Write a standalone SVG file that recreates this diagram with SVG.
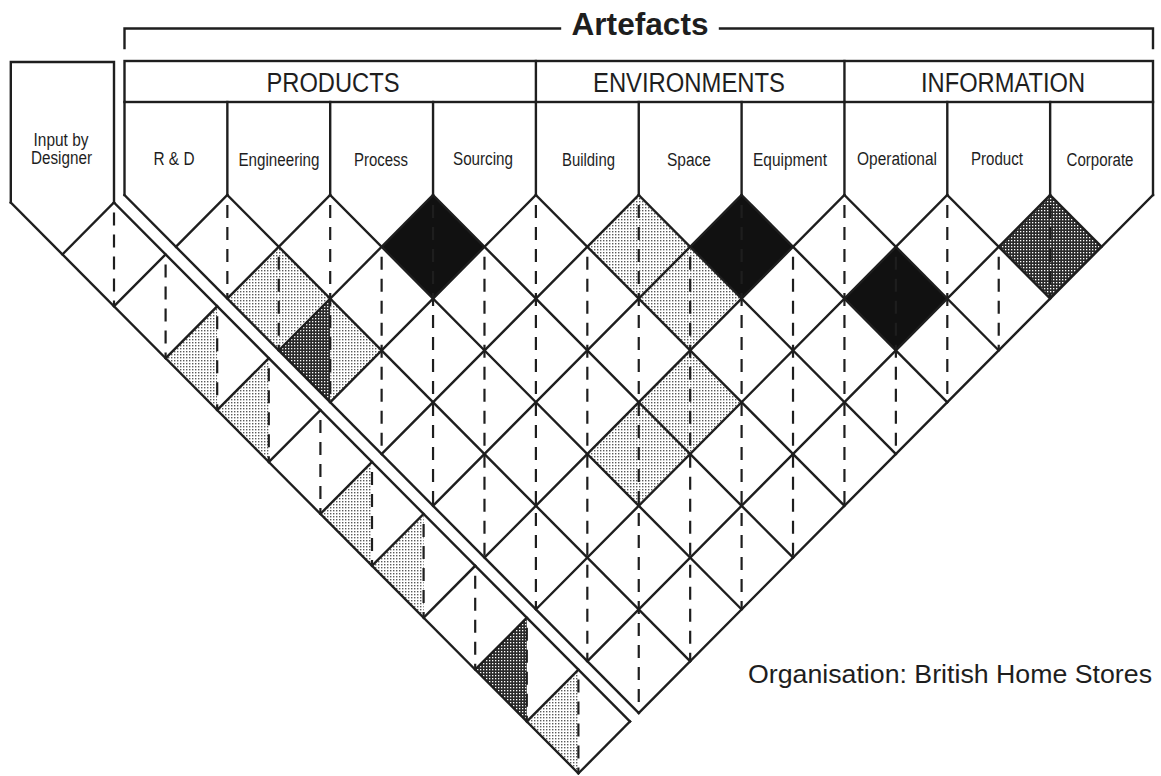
<svg xmlns="http://www.w3.org/2000/svg" width="1161" height="776" viewBox="0 0 1161 776">
  <defs>
    <!-- fine stipple used for the lighter cells -->
    <pattern id="stippleLight" width="3" height="3" patternUnits="userSpaceOnUse">
      <rect width="3" height="3" fill="#ffffff"/>
      <rect x="0" y="0" width="1.4" height="1.4" fill="#5a5a5a"/>
    </pattern>
    <!-- dense stipple used for the darker cells -->
    <pattern id="stippleDark" width="3" height="3" patternUnits="userSpaceOnUse">
      <rect width="3" height="3" fill="#2a2a2a"/>
      <rect x="0" y="0" width="1.3" height="1.3" fill="#ffffff"/>
    </pattern>
    <style>
      .ln { fill: none; stroke: #1e1e1e; stroke-width: 2.4; stroke-linejoin: miter; stroke-linecap: square; }
      .dash { fill: none; stroke: #1e1e1e; stroke-width: 2.2; stroke-dasharray: 13 9; stroke-dashoffset: -10; }
      .txt { font-family: "Liberation Sans", Arial, Helvetica, sans-serif; fill: #1e1e1e; text-anchor: middle; }
      .col { font-size: 18px; }
      .cat { font-size: 27px; }
      .title { font-size: 31px; font-weight: bold; }
      .org { font-size: 26.5px; }
      .black { fill: #111111; }
      .light { fill: url(#stippleLight); }
      .dark { fill: url(#stippleDark); }
    </style>
  </defs>

  <rect width="1161" height="776" fill="#ffffff"/>

  <!-- Title bracket -->
  <g id="artefacts">
    <polyline class="ln" points="124.5,48 124.5,28.5 560,28.5"/>
    <polyline class="ln" points="720,28.5 1153,28.5 1153,48"/>
    <text class="txt title" x="640" y="35" textLength="137" lengthAdjust="spacingAndGlyphs">Artefacts</text>
  </g>

  <!-- Category header strip -->
  <g id="categories">
    <rect class="ln" x="124.5" y="61" width="1028.5" height="41"/>
    <line class="ln" x1="535.9" y1="61" x2="535.9" y2="102"/>
    <line class="ln" x1="844.45" y1="61" x2="844.45" y2="102"/>
    <text class="txt cat" x="333" y="92" textLength="133" lengthAdjust="spacingAndGlyphs">PRODUCTS</text>
    <text class="txt cat" x="689" y="92" textLength="192" lengthAdjust="spacingAndGlyphs">ENVIRONMENTS</text>
    <text class="txt cat" x="1003" y="92" textLength="164" lengthAdjust="spacingAndGlyphs">INFORMATION</text>
  </g>

  <!-- Shaded cells of the main matrix -->
  <g id="cells">
    <polygon class="black" points="433.05,195 484.475,246.8 433.05,298.6 381.625,246.8"/>
    <polygon class="black" points="741.6,195 793.025,246.8 741.6,298.6 690.175,246.8"/>
    <polygon class="black" points="895.875,246.8 947.3,298.6 895.875,350.4 844.45,298.6"/>
    <polygon class="dark" points="1050.15,195 1101.575,246.8 1050.15,298.6 998.725,246.8"/>
    <polygon class="light" points="638.75,195 690.175,246.8 638.75,298.6 587.325,246.8"/>
    <polygon class="light" points="690.175,246.8 741.6,298.6 690.175,350.4 638.75,298.6"/>
    <polygon class="light" points="690.175,350.4 741.6,402.2 690.175,454 638.75,402.2"/>
    <polygon class="light" points="638.75,402.2 690.175,454 638.75,505.8 587.325,454"/>
    <polygon class="light" points="278.775,246.8 330.2,298.6 278.775,350.4 227.35,298.6"/>
    <polygon class="dark" points="330.2,298.6 278.775,350.4 330.2,402.2"/>
    <polygon class="light" points="330.2,298.6 381.625,350.4 330.2,402.2"/>
  </g>

  <!-- Shaded cells of the designer band -->
  <g id="designer-cells">
    <polygon class="light" points="217.2,306.3 165.6,358.2 217.2,410.1"/>
    <polygon class="light" points="268.8,358.2 217.2,410.1 268.8,462"/>
    <polygon class="light" points="372,462 320.4,513.9 372,565.8"/>
    <polygon class="light" points="423.6,513.9 372,565.8 423.6,617.7"/>
    <polygon class="dark" points="526.8,617.7 475.2,669.6 526.8,721.5"/>
    <polygon class="light" points="578.4,669.6 526.8,721.5 578.4,773.4"/>
  </g>

  <!-- Column heads -->
  <g id="col-rd"><text class="txt col" x="174" y="164.5" textLength="41" lengthAdjust="spacingAndGlyphs">R &amp; D</text></g>
  <g id="col-engineering"><text class="txt col" x="279" y="165.5" textLength="81" lengthAdjust="spacingAndGlyphs">Engineering</text></g>
  <g id="col-process"><text class="txt col" x="381" y="165.5" textLength="54" lengthAdjust="spacingAndGlyphs">Process</text></g>
  <g id="col-sourcing"><text class="txt col" x="483" y="165" textLength="60" lengthAdjust="spacingAndGlyphs">Sourcing</text></g>
  <g id="col-building"><text class="txt col" x="588.5" y="165.5" textLength="53" lengthAdjust="spacingAndGlyphs">Building</text></g>
  <g id="col-space"><text class="txt col" x="689" y="165.5" textLength="44" lengthAdjust="spacingAndGlyphs">Space</text></g>
  <g id="col-equipment"><text class="txt col" x="790" y="165.5" textLength="74" lengthAdjust="spacingAndGlyphs">Equipment</text></g>
  <g id="col-operational"><text class="txt col" x="897" y="165" textLength="80" lengthAdjust="spacingAndGlyphs">Operational</text></g>
  <g id="col-product"><text class="txt col" x="997" y="164.5" textLength="52" lengthAdjust="spacingAndGlyphs">Product</text></g>
  <g id="col-corporate"><text class="txt col" x="1100" y="165.5" textLength="67" lengthAdjust="spacingAndGlyphs">Corporate</text></g>

  <!-- Designer input column -->
  <g id="designer">
    <polyline class="ln" points="10.8,202.5 10.8,62 114,62 114,202.5"/>
    <text class="txt col" x="61" y="145.5" textLength="55" lengthAdjust="spacingAndGlyphs">Input by</text>
    <text class="txt col" x="61.5" y="163.5" textLength="61" lengthAdjust="spacingAndGlyphs">Designer</text>
  </g>

  <!-- Grid lines: column walls, diamond lattice and band -->
  <g id="connectors">
    <!-- column walls -->
    <line class="ln" x1="124.5" y1="102" x2="124.5" y2="195"/>
    <line class="ln" x1="227.35" y1="102" x2="227.35" y2="195"/>
    <line class="ln" x1="330.2" y1="102" x2="330.2" y2="195"/>
    <line class="ln" x1="433.05" y1="102" x2="433.05" y2="195"/>
    <line class="ln" x1="535.9" y1="102" x2="535.9" y2="195"/>
    <line class="ln" x1="638.75" y1="102" x2="638.75" y2="195"/>
    <line class="ln" x1="741.6" y1="102" x2="741.6" y2="195"/>
    <line class="ln" x1="844.45" y1="102" x2="844.45" y2="195"/>
    <line class="ln" x1="947.3" y1="102" x2="947.3" y2="195"/>
    <line class="ln" x1="1050.15" y1="102" x2="1050.15" y2="195"/>
    <line class="ln" x1="1153" y1="102" x2="1153" y2="195"/>

    <!-- lattice: down-right strokes -->
    <line class="ln" x1="124.5" y1="195" x2="638.75" y2="713"/>
    <line class="ln" x1="227.35" y1="195" x2="690.175" y2="661.2"/>
    <line class="ln" x1="330.2" y1="195" x2="741.6" y2="609.4"/>
    <line class="ln" x1="433.05" y1="195" x2="793.025" y2="557.6"/>
    <line class="ln" x1="535.9" y1="195" x2="844.45" y2="505.8"/>
    <line class="ln" x1="638.75" y1="195" x2="895.875" y2="454"/>
    <line class="ln" x1="741.6" y1="195" x2="947.3" y2="402.2"/>
    <line class="ln" x1="844.45" y1="195" x2="998.725" y2="350.4"/>
    <line class="ln" x1="947.3" y1="195" x2="1050.15" y2="298.6"/>
    <line class="ln" x1="1050.15" y1="195" x2="1101.575" y2="246.8"/>

    <!-- lattice: down-left strokes -->
    <line class="ln" x1="227.35" y1="195" x2="175.925" y2="246.8"/>
    <line class="ln" x1="330.2" y1="195" x2="227.35" y2="298.6"/>
    <line class="ln" x1="433.05" y1="195" x2="278.775" y2="350.4"/>
    <line class="ln" x1="535.9" y1="195" x2="330.2" y2="402.2"/>
    <line class="ln" x1="638.75" y1="195" x2="381.625" y2="454"/>
    <line class="ln" x1="741.6" y1="195" x2="433.05" y2="505.8"/>
    <line class="ln" x1="844.45" y1="195" x2="484.475" y2="557.6"/>
    <line class="ln" x1="947.3" y1="195" x2="535.9" y2="609.4"/>
    <line class="ln" x1="1050.15" y1="195" x2="587.325" y2="661.2"/>
    <line class="ln" x1="1153" y1="195" x2="638.75" y2="713"/>

    <!-- designer band outline -->
    <line class="ln" x1="10.8" y1="202.5" x2="578.4" y2="773.4"/>
    <line class="ln" x1="114" y1="202.5" x2="630" y2="721.5"/>
    <!-- designer band cell dividers -->
    <line class="ln" x1="114" y1="202.5" x2="62.4" y2="254.4"/>
    <line class="ln" x1="165.6" y1="254.4" x2="114" y2="306.3"/>
    <line class="ln" x1="217.2" y1="306.3" x2="165.6" y2="358.2"/>
    <line class="ln" x1="268.8" y1="358.2" x2="217.2" y2="410.1"/>
    <line class="ln" x1="320.4" y1="410.1" x2="268.8" y2="462"/>
    <line class="ln" x1="372" y1="462" x2="320.4" y2="513.9"/>
    <line class="ln" x1="423.6" y1="513.9" x2="372" y2="565.8"/>
    <line class="ln" x1="475.2" y1="565.8" x2="423.6" y2="617.7"/>
    <line class="ln" x1="526.8" y1="617.7" x2="475.2" y2="669.6"/>
    <line class="ln" x1="578.4" y1="669.6" x2="526.8" y2="721.5"/>
    <line class="ln" x1="630" y1="721.5" x2="578.4" y2="773.4"/>

    <!-- dashed diagonals of the main matrix cells -->
    <line class="dash" x1="227.35" y1="195" x2="227.35" y2="298.6"/>
    <line class="dash" x1="278.775" y1="246.8" x2="278.775" y2="350.4"/>
    <line class="dash" x1="330.2" y1="195" x2="330.2" y2="402.2"/>
    <line class="dash" x1="381.625" y1="246.8" x2="381.625" y2="454"/>
    <line class="dash" x1="433.05" y1="195" x2="433.05" y2="505.8"/>
    <line class="dash" x1="484.475" y1="246.8" x2="484.475" y2="557.6"/>
    <line class="dash" x1="535.9" y1="195" x2="535.9" y2="609.4"/>
    <line class="dash" x1="587.325" y1="246.8" x2="587.325" y2="661.2"/>
    <line class="dash" x1="638.75" y1="195" x2="638.75" y2="713"/>
    <line class="dash" x1="690.175" y1="246.8" x2="690.175" y2="661.2"/>
    <line class="dash" x1="741.6" y1="195" x2="741.6" y2="609.4"/>
    <line class="dash" x1="793.025" y1="246.8" x2="793.025" y2="557.6"/>
    <line class="dash" x1="844.45" y1="195" x2="844.45" y2="505.8"/>
    <line class="dash" x1="895.875" y1="246.8" x2="895.875" y2="454"/>
    <line class="dash" x1="947.3" y1="195" x2="947.3" y2="402.2"/>
    <line class="dash" x1="998.725" y1="246.8" x2="998.725" y2="350.4"/>
    <line class="dash" x1="1050.15" y1="195" x2="1050.15" y2="298.6"/>

    <!-- dashed diagonals of the designer band cells -->
    <line class="dash" x1="114" y1="202.5" x2="114" y2="306.3"/>
    <line class="dash" x1="165.6" y1="254.4" x2="165.6" y2="358.2"/>
    <line class="dash" x1="217.2" y1="306.3" x2="217.2" y2="410.1"/>
    <line class="dash" x1="268.8" y1="358.2" x2="268.8" y2="462"/>
    <line class="dash" x1="320.4" y1="410.1" x2="320.4" y2="513.9"/>
    <line class="dash" x1="372" y1="462" x2="372" y2="565.8"/>
    <line class="dash" x1="423.6" y1="513.9" x2="423.6" y2="617.7"/>
    <line class="dash" x1="475.2" y1="565.8" x2="475.2" y2="669.6"/>
    <line class="dash" x1="526.8" y1="617.7" x2="526.8" y2="721.5"/>
    <line class="dash" x1="578.4" y1="669.6" x2="578.4" y2="773.4"/>
  </g>

  <!-- Caption -->
  <g id="organisation">
    <text class="txt org" x="950" y="683" textLength="404" lengthAdjust="spacingAndGlyphs">Organisation: British Home Stores</text>
  </g>
</svg>
